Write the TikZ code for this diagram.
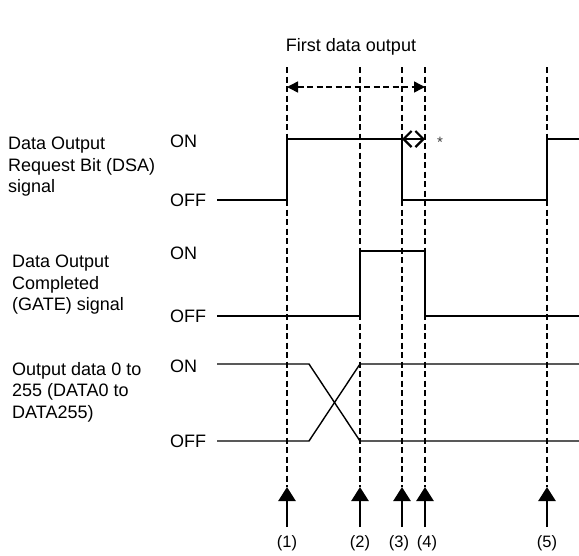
\documentclass[tikz,border=0pt]{standalone}
\usepackage{fontspec}
\setmainfont{Liberation Sans}
\usetikzlibrary{arrows.meta}

\begin{document}
\begin{tikzpicture}[x=1pt, y=-1pt, font=\fontsize{18}{21.5}\selectfont,
  sig/.style={line width=1.4pt, line join=miter},
  guide/.style={line width=1.5pt, dash pattern=on 6pt off 3.5pt},
  evtarrow/.style={line width=2.5pt, -{Triangle[length=14pt, width=17pt]}},
  lvl/.style={anchor=west, inner sep=0pt},
  signame/.style={anchor=north west, inner sep=0pt, align=left},
  evtlab/.style={font=\fontsize{16.5}{18}\selectfont}]
  \definecolor{stargray}{RGB}{60,60,60}
  \useasboundingbox (0,0) rectangle (579,555);
  \coordinate (start) at (217,0);
  \coordinate (cross) at (309,0);
  \coordinate (right) at (579,0);
  \coordinate (dsaon) at (0,139);
  \coordinate (dsaoff) at (0,200);
  \coordinate (gateon) at (0,251);
  \coordinate (gateoff) at (0,316);
  \coordinate (dataon) at (0,364);
  \coordinate (dataoff) at (0,441);
  \foreach \n/\x/\dx in {1/287/0, 2/360/0, 3/402/-3, 4/425/2, 5/547/0} {
    \coordinate (top\n) at (\x,67);
    \coordinate (tip\n) at (\x,487);
    \coordinate (base\n) at (\x,527);
    \draw[guide] (top\n) -- (tip\n);
    \draw[evtarrow] (base\n) -- (tip\n);
    \node[evtlab] (lab\n) at (\x+\dx,543) {(\n)};
  }
  \node (first) at (351,47) {First data output};
  \draw[guide, {Triangle[length=11pt, width=11pt]}-{Triangle[length=11pt, width=11pt]}]
    ([yshift=-20pt]top1) -- ([yshift=-20pt]top4);
  \node[signame] (dsa) at (8,137) {Data Output\\Request Bit (DSA)\\signal};
  \node[signame] (gate) at (12,255) {Data Output\\Completed\\(GATE) signal};
  \node[signame] (data) at (12,362) {Output data 0 to\\255 (DATA0 to\\DATA255)};
  \node[lvl] (dsaonlab) at (170,141) {ON};
  \node[lvl] (dsaofflab) at (170,200) {OFF};
  \node[lvl] (gateonlab) at (170,253) {ON};
  \node[lvl] (gateofflab) at (170,316) {OFF};
  \node[lvl] (dataonlab) at (170,366) {ON};
  \node[lvl] (dataofflab) at (170,441) {OFF};
  \draw[sig] (start |- dsaoff) -- (top1 |- dsaoff) -- (top1 |- dsaon) -- (top3 |- dsaon)
    -- (top3 |- dsaoff) -- (top5 |- dsaoff) -- (top5 |- dsaon) -- (right |- dsaon);
  \draw[sig] (start |- gateoff) -- (top2 |- gateoff) -- (top2 |- gateon) -- (top4 |- gateon)
    -- (top4 |- gateoff) -- (right |- gateoff);
  \draw[sig] (start |- dataon) -- (cross |- dataon) -- (top2 |- dataoff) -- (right |- dataoff);
  \draw[sig] (start |- dataoff) -- (cross |- dataoff) -- (top2 |- dataon) -- (right |- dataon);
  \draw[line width=2.2pt, {Straight Barb[length=8pt, width=16pt]}-{Straight Barb[length=8pt, width=16pt]}]
    (top3 |- dsaon) -- (top4 |- dsaon);
  \node[text=stargray, font=\fontsize{15}{15}\selectfont] (note) at (440,142) {*};
\end{tikzpicture}
\end{document}
